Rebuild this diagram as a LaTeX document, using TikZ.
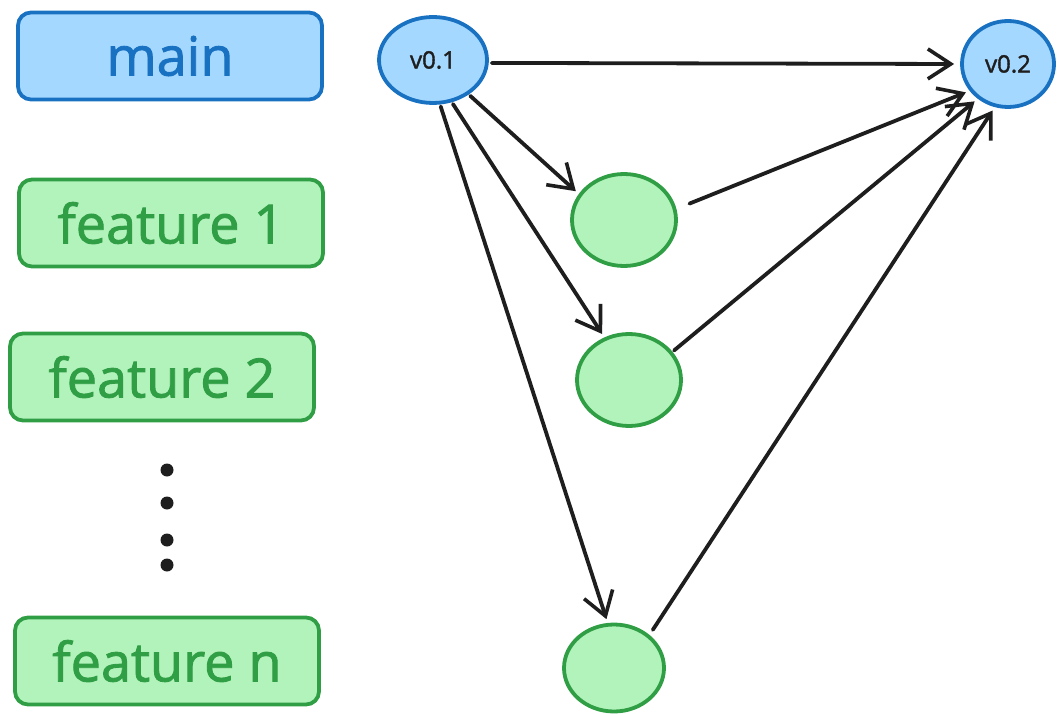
\documentclass[tikz,border=0pt]{standalone}
\usepackage{fontspec}
\setmainfont{Open Sans}[FakeBold=1.6]
\usetikzlibrary{arrows.meta, shapes.geometric}
\definecolor{mainfill}{HTML}{A5D8FF}
\definecolor{maindraw}{HTML}{1971C2}
\definecolor{featfill}{HTML}{B2F2BB}
\definecolor{featdraw}{HTML}{2F9E44}
\definecolor{inkline}{HTML}{1E1E1E}

\begin{document}
\begin{tikzpicture}[x=1pt, y=-1pt,
    branchbox/.style={rectangle, draw, line width=3.8pt, rounded corners=13pt,
      minimum width=304pt, minimum height=87pt, font=\fontsize{54}{60}\selectfont},
    mainbox/.style={branchbox, fill=mainfill, draw=maindraw, text=maindraw},
    featbox/.style={branchbox, fill=featfill, draw=featdraw, text=featdraw},
    commit/.style={ellipse, draw, line width=3.8pt, inner sep=0pt, font=\fontsize{24}{28}\selectfont, text=inkline},
    maincommit/.style={commit, fill=mainfill, draw=maindraw},
    featcommit/.style={commit, fill=featfill, draw=featdraw, minimum width=104pt, minimum height=92pt},
    arrow/.style={-{Straight Barb[length=23pt, width=30pt, line width=3.6pt]}, line width=3.8pt, draw=inkline, line cap=round}]
\useasboundingbox (0,0) rectangle (1057,714);

% Branch labels
\node[mainbox] (main) at (170,56) {main};
\node[featbox] (feat1) at (171,223) {feature 1};
\node[featbox] (feat2) at (162,377) {feature 2};
\node[featbox] (featn) at (167,661) {feature n};
\foreach \y [count=\i] in {470,503,540,565}
  \node[circle, fill=inkline, inner sep=0pt, minimum size=13pt] (dot\i) at (167,\y) {};

% Commits
\node[maincommit, minimum width=108pt, minimum height=86pt] (v01) at (433,60) {v0.1};
\node[maincommit, minimum width=92pt, minimum height=86pt] (v02) at (1008,64) {v0.2};
\node[featcommit] (c1) at (624,220) {};
\node[featcommit] (c2) at (629,380) {};
\node[featcommit, minimum width=100pt, minimum height=87pt] (cn) at (614,668) {};

% Branching off main
\draw[arrow, shorten <=3pt, shorten >=6pt] (v01.-3) -- (v02.180);
\draw[arrow, shorten <=2pt, shorten >=4pt] (v01.-44) -- (c1.150);
\draw[arrow, shorten <=2pt, shorten >=4pt] (v01.-66) -- (c2.120);
\draw[arrow, shorten <=2pt, shorten >=4pt] (v01.-81) -- (cn.98);

% Merging back
\draw[arrow, shorten <=14pt, shorten >=4pt] (c1.12) -- (v02.215);
\draw[arrow, shorten <=2pt, shorten >=4pt] (c2.33) -- (v02.229);
\draw[arrow, shorten <=6pt, shorten >=4pt] (cn.43) -- (v02.253);

\end{tikzpicture}
\end{document}
